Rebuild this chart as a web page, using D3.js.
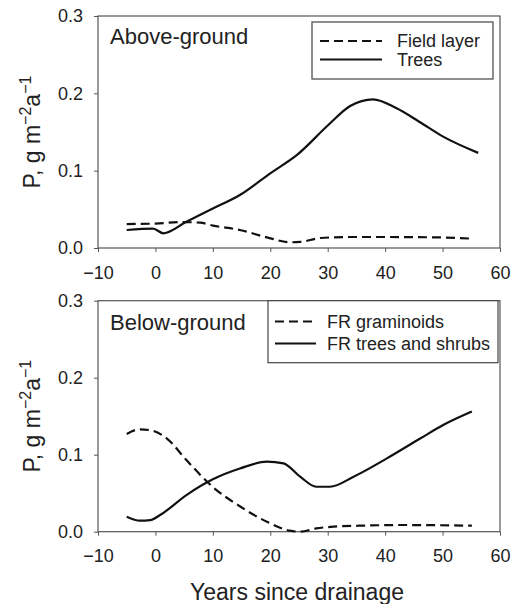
<!DOCTYPE html>
<html>
<head>
<meta charset="utf-8">
<script src="https://cdn.jsdelivr.net/npm/d3@7"></script>
<style>
  body { margin: 0; background: #fff; }
  svg { font-family: "Liberation Sans", Arial, sans-serif; }
</style>
</head>
<body>
<script>
// years since drainage, values in g m-2 a-1
const fieldYears = [-5, 0, 4.3, 7.8, 10, 14.7, 19.4, 23.4, 25.2, 28.7, 33.9, 39.7, 48.4, 55.4];
const fieldVals  = [0.031, 0.0315, 0.0336, 0.0327, 0.0290, 0.0233, 0.0138, 0.0074, 0.0078, 0.0129, 0.0142, 0.0142, 0.0138, 0.012];

const treeYears = [-5, -0.4, 1.4, 5.4, 10, 14.7, 20, 24.6, 30.1, 33.9, 37.9, 42, 46, 50.1, 56.2];
const treeVals  = [0.0233, 0.025, 0.019, 0.034, 0.051, 0.0685, 0.0966, 0.120, 0.159, 0.1836, 0.1923, 0.1806, 0.163, 0.144, 0.123];

const gramYears = [-5, -2.7, -0.4, 2, 5.4, 10, 14.7, 19.4, 23.4, 25.2, 28, 31, 36.8, 42.6, 55.1];
const gramVals  = [0.127, 0.133, 0.131, 0.121, 0.093, 0.058, 0.033, 0.013, 0.0013, 0, 0.0043, 0.0065, 0.008, 0.0087, 0.0078];

const shrubYears = [-5, -2.7, -0.9, 0.8, 5.4, 10, 14.7, 19.4, 22.3, 25.2, 28, 30.4, 34.5, 40.3, 46.1, 50.1, 55.1];
const shrubVals  = [0.0195, 0.0143, 0.015, 0.0216, 0.0476, 0.068, 0.082, 0.091, 0.0887, 0.0714, 0.0584, 0.0584, 0.0714, 0.0952, 0.121, 0.1385, 0.156];

const xTicks = [-10, 0, 10, 20, 30, 40, 50, 60];
const yTicks = [0, 0.1, 0.2, 0.3];

const W = 512, H = 604;
const svg = d3.select("body").append("svg").attr("width", W).attr("height", H);

const x = d3.scaleLinear().domain([-10, 60]).range([98, 500]);

const panels = [
  { top: 16, bottom: 248, title: "Above-ground", titleY: 44,
    series: [
      { name: "Field layer", xs: fieldYears, ys: fieldVals, dash: "9,5" },
      { name: "Trees", xs: treeYears, ys: treeVals, dash: null }
    ],
    legend: { x: 312, y: 22, w: 181, h: 57, lx1: 320, lx2: 382, tx: 397, rows: [41, 59.5] } },
  { top: 300.7, bottom: 531.7, title: "Below-ground", titleY: 330,
    series: [
      { name: "FR graminoids", xs: gramYears, ys: gramVals, dash: "9,5" },
      { name: "FR trees and shrubs", xs: shrubYears, ys: shrubVals, dash: null }
    ],
    legend: { x: 268, y: 300.7, w: 230, h: 62, lx1: 275, lx2: 316, tx: 327, rows: [321.5, 343.5] } }
];

panels.forEach(p => {
  const y = d3.scaleLinear().domain([0, 0.3]).range([p.bottom, p.top]);
  const g = svg.append("g");

  // frame
  g.append("rect")
    .attr("x", x(-10)).attr("y", y(0.3))
    .attr("width", x(60) - x(-10)).attr("height", y(0) - y(0.3))
    .attr("fill", "none").attr("stroke", "#555").attr("stroke-width", 1.2);

  const xAxis = g.append("g")
    .attr("transform", "translate(0," + y(0) + ")")
    .call(d3.axisBottom(x).tickValues(xTicks).tickSize(4).tickPadding(14)
      .tickFormat(d => d < 0 ? "\u2212" + Math.abs(d) : d));
  const yAxis = g.append("g")
    .attr("transform", "translate(" + x(-10) + ",0)")
    .call(d3.axisLeft(y).tickValues(yTicks).tickSize(4).tickPadding(11)
      .tickFormat(d3.format(".1f")));

  [xAxis, yAxis].forEach(a => {
    a.select(".domain").remove();
    a.selectAll("line").attr("stroke", "#555");
    a.selectAll("text").attr("font-size", 18).attr("fill", "#222")
      .attr("font-family", "Liberation Sans, Arial, sans-serif");
  });

  const line = d3.line().curve(d3.curveMonotoneX);
  p.series.forEach(s => {
    const pts = s.xs.map((v, i) => [x(v), y(s.ys[i])]);
    g.append("path").attr("d", line(pts))
      .attr("fill", "none").attr("stroke", "#111").attr("stroke-width", 2.2)
      .attr("stroke-dasharray", s.dash);
  });

  g.append("text").attr("x", 110).attr("y", p.titleY)
    .attr("font-size", 22).attr("fill", "#222").text(p.title);

  const L = p.legend;
  g.append("rect").attr("x", L.x).attr("y", L.y).attr("width", L.w).attr("height", L.h)
    .attr("fill", "#fff").attr("stroke", "#444").attr("stroke-width", 1.2);
  p.series.forEach((s, i) => {
    g.append("line").attr("x1", L.lx1).attr("x2", L.lx2)
      .attr("y1", L.rows[i]).attr("y2", L.rows[i])
      .attr("stroke", "#111").attr("stroke-width", 2.2).attr("stroke-dasharray", s.dash);
    g.append("text").attr("x", L.tx).attr("y", L.rows[i]).attr("dy", "0.35em")
      .attr("font-size", 18).attr("fill", "#222").text(s.name);
  });

  // y axis label
  const cy = (p.top + p.bottom) / 2;
  const yl = g.append("text")
    .attr("transform", "translate(40," + cy + ") rotate(-90)")
    .attr("text-anchor", "middle").attr("font-size", 23).attr("fill", "#222");
  yl.append("tspan").text("P, g m");
  yl.append("tspan").attr("dy", -9).attr("font-size", 16).text("\u22122");
  yl.append("tspan").attr("dy", 9).text("a");
  yl.append("tspan").attr("dy", -9).attr("font-size", 16).text("\u22121");
});

svg.append("text").attr("x", 297).attr("y", 600)
  .attr("text-anchor", "middle").attr("font-size", 23).attr("fill", "#222")
  .text("Years since drainage");
</script>
</body>
</html>
